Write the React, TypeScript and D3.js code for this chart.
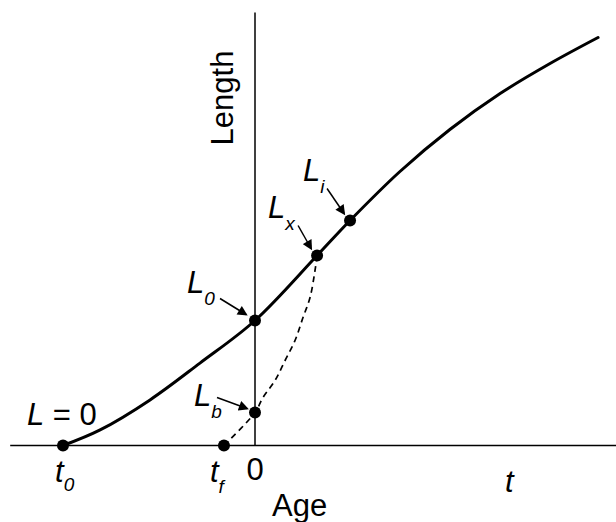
import React from 'react';
import * as d3 from 'd3';

// growth curve (age units, length units)
const growthAge = [-6, -4.84, -3.28, -1.72, 0, 1.94, 2.97, 4.53, 6.09, 7.66, 9.22, 10.72];
const growthLength = [0, 0.78, 2.28, 4.12, 6.25, 9.5, 11.25, 13.7, 15.8, 17.6, 19.1, 20.4];

// dashed back-calculated curve from t_f to L_x
const backAge = [-0.97, 0, 0.25, 0.625, 0.94, 1.25, 1.5, 1.72, 1.875, 1.94];
const backLength = [0, 1.65, 2.4, 3.25, 4.25, 5.25, 6.4, 7.4, 8.75, 9.5];

// marked points
const pointNames = ['t0', 'tf', 'Lb', 'L0', 'Lx', 'Li'];
const pointAge = [-6, -0.97, 0, 0, 1.94, 2.97];
const pointLength = [0, 0, 1.65, 6.25, 9.5, 11.25];

// labelled L points and their subscripts
const labelFor = ['L0', 'Lb', 'Lx', 'Li'];
const labelSubs = ['0', 'b', 'x', 'i'];

const ageExtent = [-7.65, 11.25];
const lengthTop = 21.65;

const W = 616;
const H = 522;

const x = d3.scaleLinear().domain([-8, 11.25]).range([-1, 615]);
const y = d3.scaleLinear().domain([0, 22]).range([445.5, 5.5]);

const font = '"Liberation Sans", Arial, sans-serif';

export default function App() {
  const growth = growthAge.map((a, i) => [a, growthLength[i]] as [number, number]);
  const back = backAge.map((a, i) => [a, backLength[i]] as [number, number]);
  const line = d3
    .line<[number, number]>()
    .x((d) => x(d[0]))
    .y((d) => y(d[1]))
    .curve(d3.curveCatmullRom.alpha(0.5));

  const pt = (name: string) => {
    const i = pointNames.indexOf(name);
    return { px: x(pointAge[i]), py: y(pointLength[i]) };
  };

  // label placement relative to each point: text dx, dy, arrow x1, y1, x2, y2
  const labelOffset: Record<string, number[]> = {
    L0: [-68, -28, -35, -22, -9, -6],
    Lb: [-61, -7, -38, -15, -8, -4],
    Lx: [-49, -38, -19, -30, -6, -7],
    Li: [-47, -40, -23, -32, -6, -7],
  };

  return (
    <svg
      width={W}
      height={H}
      style={{ position: 'absolute', left: 0, top: 0, background: '#fff' }}
      fontFamily={font}
    >
      <defs>
        <marker
          id="head"
          viewBox="0 0 10 10"
          refX="8"
          refY="5"
          markerWidth="11"
          markerHeight="10"
          markerUnits="userSpaceOnUse"
          orient="auto"
        >
          <path d="M0,0 L10,5 L0,10 z" fill="#000" />
        </marker>
      </defs>

      {/* axes */}
      <line x1={x(ageExtent[0])} x2={x(ageExtent[1]) + 1} y1={y(0)} y2={y(0)} stroke="#000" strokeWidth={1.5} />
      <line x1={x(0)} x2={x(0)} y1={y(0)} y2={y(lengthTop)} stroke="#000" strokeWidth={1.5} />

      {/* curves */}
      <path d={line(back) || ''} fill="none" stroke="#000" strokeWidth={1.7} strokeDasharray="6,4.5" />
      <path d={line(growth) || ''} fill="none" stroke="#000" strokeWidth={3} strokeLinecap="round" />

      {/* points */}
      {pointNames.map((n) => {
        const p = pt(n);
        return <circle key={n} cx={p.px} cy={p.py} r={6} fill="#000" />;
      })}

      {/* L labels with arrows */}
      {labelFor.map((n, i) => {
        const p = pt(n);
        const o = labelOffset[n];
        return (
          <g key={n}>
            <text x={p.px + o[0]} y={p.py + o[1]} fontSize={31} fontStyle="italic">
              L
              <tspan fontSize={19} dy={12}>
                {labelSubs[i]}
              </tspan>
            </text>
            <line
              x1={p.px + o[2]}
              y1={p.py + o[3]}
              x2={p.px + o[4]}
              y2={p.py + o[5]}
              stroke="#000"
              strokeWidth={1.5}
              markerEnd="url(#head)"
            />
          </g>
        );
      })}

      {/* L = 0 */}
      <text x={pt('t0').px - 36} y={pt('t0').py - 21} fontSize={31}>
        <tspan fontStyle="italic">L</tspan> = 0
      </text>

      {/* t0, tf */}
      <text x={pt('t0').px - 8} y={pt('t0').py + 36} fontSize={31} fontStyle="italic">
        t
        <tspan fontSize={19} dy={9}>0</tspan>
      </text>
      <text x={pt('tf').px - 14} y={pt('tf').py + 36} fontSize={31} fontStyle="italic">
        t
        <tspan fontSize={19} dy={11}>f</tspan>
      </text>

      {/* axis labels */}
      <text x={x(0)} y={y(0) + 34} fontSize={31} textAnchor="middle">
        0
      </text>
      <text x={505} y={y(0) + 46} fontSize={31} fontStyle="italic">
        t
      </text>
      <text x={272} y={y(0) + 70} fontSize={31}>
        Age
      </text>
      <text transform={`translate(${x(0) - 22},98) rotate(-90)`} fontSize={31} textAnchor="middle">
        Length
      </text>
    </svg>
  );
}
